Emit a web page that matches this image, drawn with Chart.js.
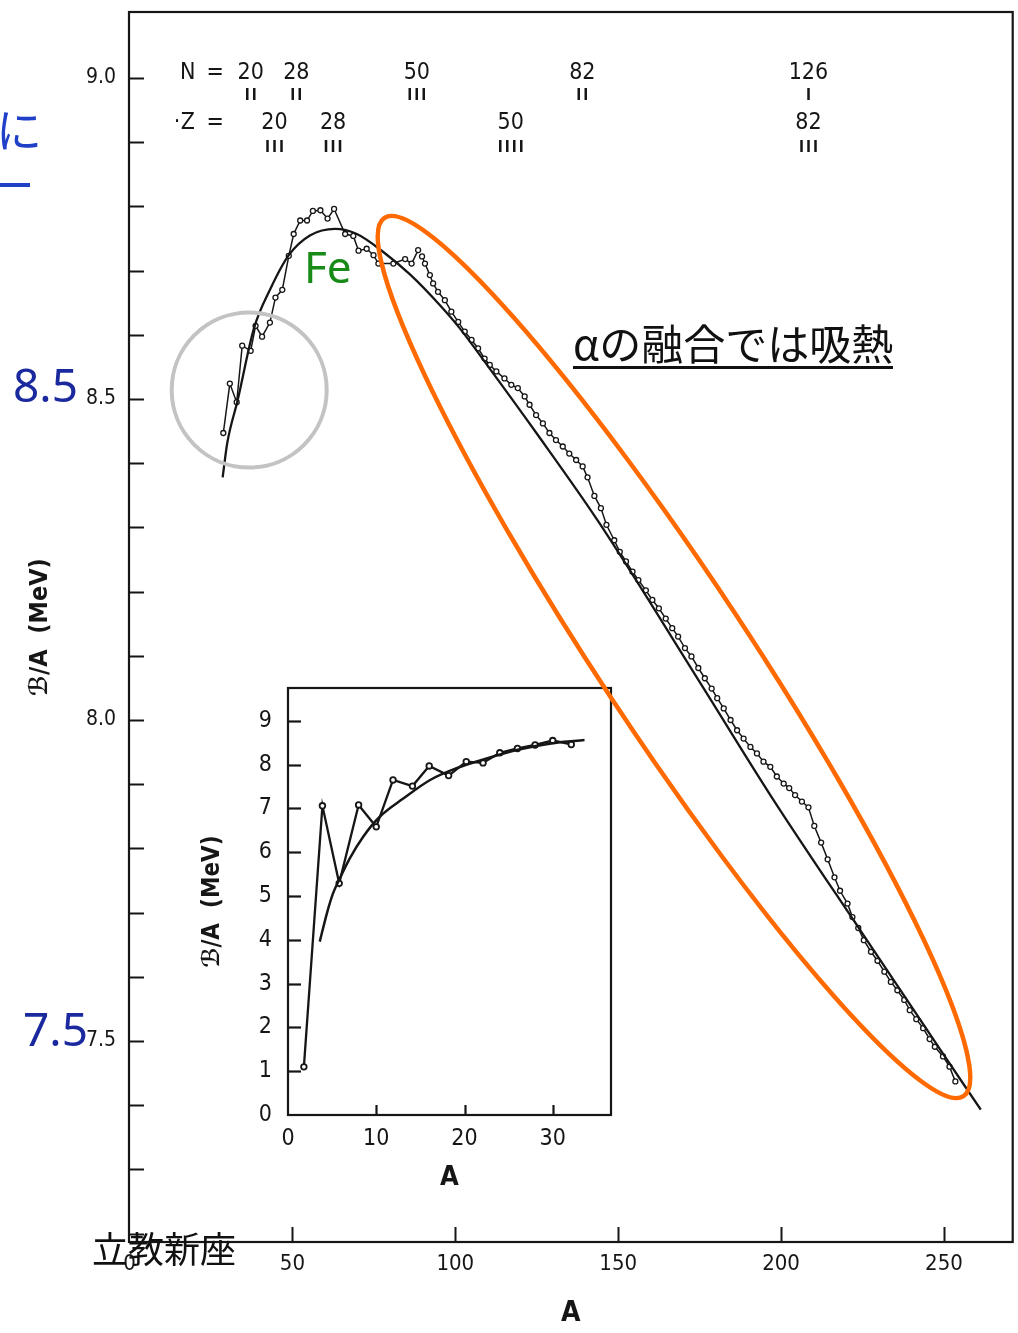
<!DOCTYPE html>
<html><head><meta charset="utf-8">
<script src="https://cdn.jsdelivr.net/npm/chart.js@4.4.0/dist/chart.umd.min.js"></script>
<style>
html,body{margin:0;padding:0;background:#fff;}
#wrap{position:relative;width:1018px;height:1333px;overflow:hidden;background:#fff;}
#main{position:absolute;left:0;top:0;width:1018px;height:1333px;}
#inset{position:absolute;left:180px;top:680px;width:450px;height:520px;}
svg{position:absolute;left:0;top:0;pointer-events:none;}
.ov{position:absolute;white-space:nowrap;margin:0;}
</style></head><body>
<div id="wrap">
<canvas id="main" width="1018" height="1333"></canvas>
<canvas id="inset" width="450" height="520"></canvas>
<svg width="1018" height="1333" viewBox="0 0 1018 1333">
  <circle cx="249.2" cy="390" r="77.5" fill="none" stroke="#c3c3c3" stroke-width="4"/>
  <ellipse cx="674" cy="657" rx="526" ry="75" transform="rotate(56.6 674 657)" fill="none" stroke="#ff6a00" stroke-width="4.5"/>
</svg>
<div class="ov" style="left:-4px;top:104px;font:46px 'Noto Sans CJK JP';line-height:1;color:#2040c8;">に</div>
<div class="ov" style="left:0;top:183px;width:30px;height:4px;background:#2040c8;"></div>
<div class="ov" style="left:13px;top:361px;font:46px 'Noto Sans';line-height:1;color:#1a2a9e;">8.5</div>
<div class="ov" style="left:23px;top:1005px;font:46px 'Noto Sans';line-height:1;color:#1a2a9e;">7.5</div>
<div class="ov" style="left:304px;top:244px;font:44px 'Noto Sans';line-height:1;color:#178a17;">Fe</div>
<div class="ov" style="left:573px;top:321px;font:42px 'Noto Sans CJK JP';line-height:1;color:#111;padding-bottom:3px;border-bottom:3px solid #111;">αの融合では吸熱</div>
<div class="ov" style="left:92px;top:1229px;font:36px 'Noto Sans CJK JP';line-height:1;color:#111;">立教新座</div>
</div>
<script>
// ---------- main chart data ----------
const smoothA = [28.6, 30.0, 33.2, 38.2, 43.3, 48.9, 55.5, 63.1, 69.8, 77.9, 86.1, 95.3, 101.4, 109.9, 124.9, 144.2, 174.8, 197.1, 224.9, 250.0, 261.3];
const smoothV = [8.378, 8.431, 8.498, 8.610, 8.672, 8.724, 8.755, 8.765, 8.757, 8.729, 8.694, 8.646, 8.610, 8.552, 8.447, 8.307, 8.061, 7.880, 7.668, 7.478, 7.393];

const exp1A = [28.8,30.8,32.9,34.6,37.2,38.7,40.7,43.1,44.8,46.9,48.9,50.4,52.4,54.5,56.3,58.6,60.8,62.8,66.2,68.7,70.3,72.8,74.9,76.4,81.0,84.6,86.6,88.6];
const exp1V = [8.447,8.524,8.495,8.583,8.575,8.614,8.597,8.619,8.658,8.670,8.723,8.757,8.778,8.778,8.793,8.794,8.781,8.796,8.757,8.754,8.731,8.734,8.724,8.711,8.711,8.718,8.711,8.732];

const exp2A = [89.8,90.7,92.2,93.2,94.7,96.8,98.8,100.9,102.9,105.0,107.0,109.0,110.6,112.6,115.1,117.2,119.2,121.3,122.8,124.8,126.9,128.9,130.9,133.0,135.0,137.1,139.1,140.6,142.7,144.7,146.4,148.8,150.5,152.4,154.4,156.2,158.5,160.5,162.5,164.6,166.6,168.4,170.5,172.5,174.6,176.6,178.7,180.4,182.4,184.5,186.5,188.5,190.6,192.6,194.6,196.7,198.7,200.8,202.5,204.3,206.4,208.4,210.2,212.3,214.3,216.4,218.1,220.4,221.9,223.7,225.4,227.6,229.6,231.7,233.7,235.7,237.8,239.5,241.5,243.6,245.6,247.2,249.7,251.7,253.5];
const exp2V = [8.722,8.711,8.693,8.680,8.667,8.654,8.636,8.620,8.605,8.592,8.579,8.563,8.553,8.543,8.532,8.522,8.517,8.504,8.491,8.475,8.462,8.447,8.436,8.426,8.415,8.405,8.395,8.378,8.349,8.330,8.304,8.280,8.262,8.247,8.231,8.218,8.202,8.187,8.174,8.158,8.143,8.130,8.112,8.099,8.081,8.065,8.049,8.034,8.018,8.000,7.984,7.971,7.958,7.948,7.935,7.927,7.912,7.901,7.894,7.883,7.873,7.864,7.835,7.809,7.783,7.755,7.734,7.714,7.693,7.676,7.657,7.639,7.625,7.608,7.592,7.579,7.564,7.548,7.534,7.520,7.503,7.491,7.476,7.460,7.437];

const mainXTicks = [0, 50, 100, 150, 200, 250];
const mainYTicks = [7.2,7.3,7.4,7.5,7.6,7.7,7.8,7.9,8.0,8.1,8.2,8.3,8.4,8.5,8.6,8.7,8.8,8.9,9.0];
const mainYLabels = [7.5, 8.0, 8.5, 9.0];

// magic numbers annotation (positions in A / MeV)
const rowNames = ['N', 'Z'];
const rowV = [9.0078, 8.930];
const markRowV = [8.972, 8.891];
const nMagic = ['20', '28', '50', '82', '126'];
const nMagicA = [37.2, 51.2, 88.2, 139.0, 208.4];
const nMarks = ['II', 'II', 'III', 'II', 'I'];
const zMagic = ['20', '28', '50', '82'];
const zMagicA = [44.5, 62.5, 117.0, 208.4];
const zMarks = ['III', 'III', 'IIII', 'III'];

// ---------- inset data ----------
const insetExpA = [1.8, 3.9, 5.8, 8.0, 10.0, 11.9, 14.1, 16.0, 18.2, 20.2, 22.1, 24.0, 26.0, 28.0, 30.0, 32.1];
const insetExpV = [1.10, 7.06, 5.29, 7.08, 6.58, 7.65, 7.51, 7.97, 7.75, 8.07, 8.04, 8.27, 8.37, 8.45, 8.55, 8.46];
const insetSmoothA = [3.6, 4.4, 5.1, 5.8, 7.0, 8.5, 10.4, 13.1, 16.1, 19.1, 22.5, 26.3, 30.0, 33.6];
const insetSmoothV = [3.96, 4.60, 5.06, 5.37, 5.86, 6.35, 6.81, 7.23, 7.65, 7.92, 8.14, 8.35, 8.49, 8.56];
const insetXTicks = [0, 10, 20, 30];
const insetYTicks = [0, 1, 2, 3, 4, 5, 6, 7, 8, 9];

// ---------- helpers ----------
const NUM = "'DejaVu Sans Condensed','DejaVu Sans',sans-serif";
const INK = '#161616';
const pts = (xs, ys) => xs.map((x, i) => ({x: x, y: ys[i]}));
const noPad = s => { s.paddingTop = 0; s.paddingBottom = 0; s.paddingLeft = 0; s.paddingRight = 0; };

const framePlugin = {
  id: 'frame',
  afterDatasetsDraw(chart, args, o) {
    const {ctx, chartArea: a, scales: {x, y}} = chart;
    ctx.save();
    ctx.strokeStyle = INK;
    ctx.lineWidth = o.lw;
    ctx.strokeRect(a.left, a.top, a.right - a.left, a.bottom - a.top);
    ctx.lineWidth = o.tw;
    y.ticks.forEach(t => {
      if (t.value <= y.min + 1e-9) return;
      const py = Math.round(y.getPixelForValue(t.value)) + 0.5;
      ctx.beginPath(); ctx.moveTo(a.left, py); ctx.lineTo(a.left + o.yLen, py); ctx.stroke();
    });
    x.ticks.forEach(t => {
      if (t.value <= x.min + 1) return;
      const px = Math.round(x.getPixelForValue(t.value)) + 0.5;
      ctx.beginPath(); ctx.moveTo(px, a.bottom); ctx.lineTo(px, a.bottom - o.xLen); ctx.stroke();
    });
    ctx.restore();
  }
};

const magicPlugin = {
  id: 'magic',
  afterDatasetsDraw(chart) {
    const {ctx, scales: {x, y}} = chart;
    ctx.save();
    ctx.fillStyle = INK;
    ctx.textAlign = 'center';
    ctx.textBaseline = 'middle';
    ctx.font = '23px ' + NUM;
    const nameA = 17.9, eqA = 26.3;
    rowNames.forEach((n, r) => {
      const py = y.getPixelForValue(rowV[r]);
      ctx.fillText(n, x.getPixelForValue(nameA), py);
      ctx.fillText('=', x.getPixelForValue(eqA), py);
    });
    ctx.fillText('·', x.getPixelForValue(14.6), y.getPixelForValue(rowV[1]));
    nMagic.forEach((s, i) => ctx.fillText(s, x.getPixelForValue(nMagicA[i]), y.getPixelForValue(rowV[0])));
    zMagic.forEach((s, i) => ctx.fillText(s, x.getPixelForValue(zMagicA[i]), y.getPixelForValue(rowV[1])));
    ctx.font = 'bold 15px ' + NUM;
    ctx.letterSpacing = '2px';
    nMarks.forEach((s, i) => ctx.fillText(s, x.getPixelForValue(nMagicA[i]) + 1, y.getPixelForValue(markRowV[0])));
    zMarks.forEach((s, i) => ctx.fillText(s, x.getPixelForValue(zMagicA[i]) + 1, y.getPixelForValue(markRowV[1])));
    ctx.restore();
  }
};

const expStyle = {
  borderColor: INK, borderWidth: 1.5, pointRadius: 2.5, pointBackgroundColor: '#fff',
  pointBorderColor: INK, pointBorderWidth: 1.3, tension: 0
};

// ---------- main chart ----------
new Chart(document.getElementById('main'), {
  type: 'line',
  data: {datasets: [
    {data: pts(smoothA, smoothV), borderColor: INK, borderWidth: 2.3, pointRadius: 0, cubicInterpolationMode: 'monotone'},
    Object.assign({data: pts(exp1A, exp1V)}, expStyle),
    Object.assign({data: pts(exp2A, exp2V)}, expStyle)
  ]},
  options: {
    responsive: false, animation: false, events: [],
    layout: {padding: {left: 1, top: 12, right: 3, bottom: 0}},
    plugins: {legend: {display: false}, tooltip: {enabled: false},
      frame: {lw: 2.2, tw: 2, yLen: 15, xLen: 15}},
    scales: {
      x: {
        type: 'linear', min: -0.15, max: 271.1,
        grid: {display: false, drawTicks: false}, border: {display: false},
        afterBuildTicks: s => { s.ticks = mainXTicks.map(v => ({value: v})); },
        afterFit: s => { s.height = 91; noPad(s); },
        ticks: {autoSkip: false, maxRotation: 0, padding: 9, color: INK, font: {family: NUM, size: 22},
          callback: v => String(v)},
        title: {display: true, text: 'A', color: INK, font: {family: NUM, size: 28, weight: 'bold'},
          padding: {top: 0, bottom: 2}}
      },
      y: {
        type: 'linear', min: 7.1869, max: 9.1028,
        grid: {display: false, drawTicks: false}, border: {display: false},
        afterBuildTicks: s => { s.ticks = mainYTicks.map(v => ({value: v})); },
        afterFit: s => { s.width = 128; noPad(s); },
        ticks: {autoSkip: false, padding: 13, color: INK, font: {family: NUM, size: 21},
          callback: v => mainYLabels.some(l => Math.abs(l - v) < 1e-6) ? v.toFixed(1) : ''},
        title: {display: true, text: 'ℬ/A  (MeV)', color: INK, font: {family: NUM, size: 25, weight: 'bold'},
          padding: {top: 24, bottom: 0}}
      }
    }
  },
  plugins: [framePlugin, magicPlugin]
});

// ---------- inset chart ----------
new Chart(document.getElementById('inset'), {
  type: 'line',
  data: {datasets: [
    {data: pts(insetSmoothA, insetSmoothV), borderColor: INK, borderWidth: 2.5, pointRadius: 0, cubicInterpolationMode: 'monotone'},
    {data: pts(insetExpA, insetExpV), borderColor: INK, borderWidth: 2.3, pointRadius: 2.8, pointBackgroundColor: '#fff',
      pointBorderColor: INK, pointBorderWidth: 1.8, tension: 0}
  ]},
  options: {
    responsive: false, animation: false, events: [],
    layout: {padding: {left: 0, top: 8, right: 19, bottom: 0}},
    plugins: {legend: {display: false}, tooltip: {enabled: false},
      frame: {lw: 2.2, tw: 2.2, yLen: 13, xLen: 10}},
    scales: {
      x: {
        type: 'linear', min: 0, max: 36.6,
        grid: {display: false, drawTicks: false}, border: {display: false},
        afterBuildTicks: s => { s.ticks = insetXTicks.map(v => ({value: v})); },
        afterFit: s => { s.height = 85; noPad(s); },
        ticks: {autoSkip: false, maxRotation: 0, padding: 10, color: INK, font: {family: NUM, size: 23},
          callback: v => String(v)},
        title: {display: true, text: 'A', color: INK, font: {family: NUM, size: 27, weight: 'bold'},
          padding: {top: 0, bottom: 6}}
      },
      y: {
        type: 'linear', min: 0, max: 9.75,
        grid: {display: false, drawTicks: false}, border: {display: false},
        afterBuildTicks: s => { s.ticks = insetYTicks.map(v => ({value: v})); },
        afterFit: s => { s.width = 108; noPad(s); },
        ticks: {autoSkip: false, padding: 16, color: INK, font: {family: NUM, size: 23},
          callback: v => String(v)},
        title: {display: true, text: 'ℬ/A  (MeV)', color: INK, font: {family: NUM, size: 24, weight: 'bold'},
          padding: {top: 18, bottom: 0}}
      }
    }
  },
  plugins: [framePlugin]
});
</script>
</body></html>
